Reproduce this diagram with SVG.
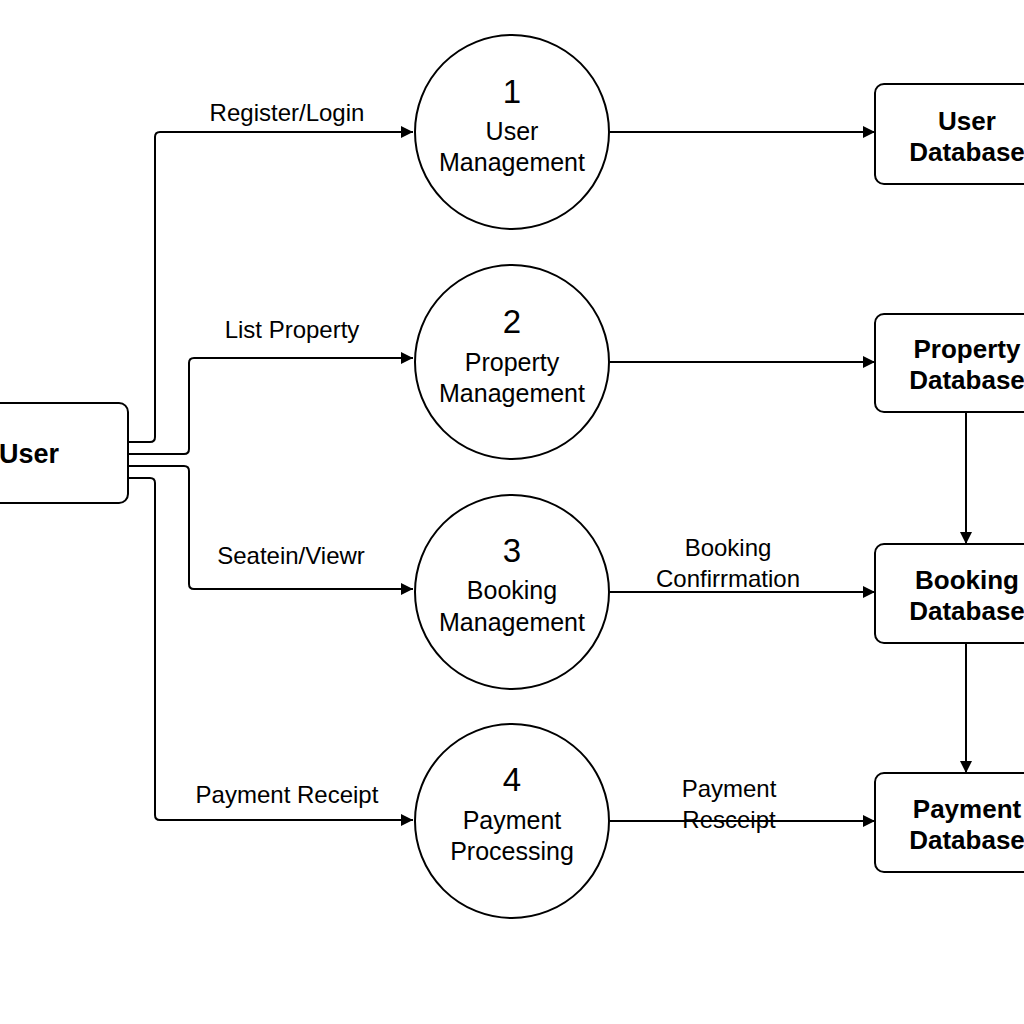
<svg xmlns="http://www.w3.org/2000/svg" width="1024" height="1024" viewBox="0 0 1024 1024">
<defs>
<marker id="arr" viewBox="0 0 10 10" refX="10" refY="5" markerWidth="16" markerHeight="12" markerUnits="userSpaceOnUse" orient="auto">
<path d="M0,0 L10,5 L0,10 z" fill="#000"/>
</marker>
</defs>
<style>
.box{fill:#fff;stroke:#000;stroke-width:2}
.proc{fill:#fff;stroke:#000;stroke-width:2}
.ln{fill:none;stroke:#000;stroke-width:2;marker-end:url(#arr)}
text{font-family:"Liberation Sans",Arial,sans-serif;fill:#000}
.lbl{font-size:24px;text-anchor:middle}
.num{font-size:33px;text-anchor:middle}
.pt{font-size:25px;text-anchor:middle}
.db{font-size:26px;font-weight:bold;text-anchor:middle}
</style>
<rect width="1024" height="1024" fill="#fff"/>
<g id="connectors">
<path class="ln" d="M128,442 H150 Q155,442 155,437 V137 Q155,132 160,132 H413"/>
<path class="ln" d="M128,454 H184 Q189,454 189,449 V363 Q189,358 194,358 H413"/>
<path class="ln" d="M128,466 H184 Q189,466 189,471 V584 Q189,589 194,589 H413"/>
<path class="ln" d="M128,478 H150 Q155,478 155,483 V815 Q155,820 160,820 H413"/>
<path class="ln" d="M610,132 H875"/>
<path class="ln" d="M610,362 H875"/>
<path class="ln" d="M610,592 H875"/>
<path class="ln" d="M610,821 H875"/>
<path class="ln" d="M966,412 V544"/>
<path class="ln" d="M966,643 V773"/>
<text class="lbl" x="287" y="121">Register/Login</text>
<text class="lbl" x="292" y="338">List Property</text>
<text class="lbl" x="291" y="564">Seatein/Viewr</text>
<text class="lbl" x="287" y="803">Payment Receipt</text>
<text class="lbl" x="728" y="556">Booking</text>
<text class="lbl" x="728" y="587">Confirrmation</text>
<text class="lbl" x="729" y="797">Payment</text>
<text class="lbl" x="729" y="828">Resceipt</text>
</g>
<g id="user">
<rect class="box" x="-10" y="403" width="138" height="100" rx="9"/>
<text x="-1" y="463" style="font-size:27px;font-weight:bold">User</text>
</g>
<g id="p1">
<circle class="proc" cx="512" cy="132" r="97"/>
<text class="num" x="512" y="103">1</text>
<text class="pt" x="512" y="140">User</text>
<text class="pt" x="512" y="171">Management</text>
</g>
<g id="p2">
<circle class="proc" cx="512" cy="362" r="97"/>
<text class="num" x="512" y="333">2</text>
<text class="pt" x="512" y="371">Property</text>
<text class="pt" x="512" y="402">Management</text>
</g>
<g id="p3">
<circle class="proc" cx="512" cy="592" r="97"/>
<text class="num" x="512" y="562">3</text>
<text class="pt" x="512" y="599">Booking</text>
<text class="pt" x="512" y="631">Management</text>
</g>
<g id="p4">
<circle class="proc" cx="512" cy="821" r="97"/>
<text class="num" x="512" y="791">4</text>
<text class="pt" x="512" y="829">Payment</text>
<text class="pt" x="512" y="860">Processing</text>
</g>
<g id="db1">
<rect class="box" x="875" y="84" width="170" height="100" rx="9"/>
<text class="db" x="967" y="130">User</text>
<text class="db" x="967" y="161">Database</text>
</g>
<g id="db2">
<rect class="box" x="875" y="314" width="170" height="98" rx="9"/>
<text class="db" x="967" y="358">Property</text>
<text class="db" x="967" y="389">Database</text>
</g>
<g id="db3">
<rect class="box" x="875" y="544" width="170" height="99" rx="9"/>
<text class="db" x="967" y="589">Booking</text>
<text class="db" x="967" y="620">Database</text>
</g>
<g id="db4">
<rect class="box" x="875" y="773" width="170" height="99" rx="9"/>
<text class="db" x="967" y="818">Payment</text>
<text class="db" x="967" y="849">Database</text>
</g>
</svg>
